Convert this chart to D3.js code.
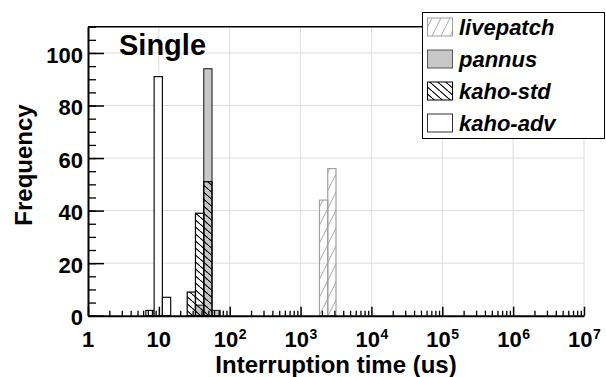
<!DOCTYPE html>
<html>
<head>
<meta charset="utf-8">
<script src="https://cdn.jsdelivr.net/npm/d3@7"></script>
<style>
  body { margin: 0; background: #fff; }
  svg { font-family: "Liberation Sans", Arial, sans-serif; font-weight: bold; }
</style>
</head>
<body>
<svg id="chart" width="606" height="377"></svg>
<script>
// histogram: 60 log bins between 1 and 1e7 us
const nBins = 60;
const decades = [1, 10, 100, 1000, 10000, 100000, 1000000, 10000000];
const yTicks = [0, 20, 40, 60, 80, 100];

const livepatchBins = [28, 29];
const livepatchCounts = [44, 56];
const pannusBins = [13, 14, 15];
const pannusCounts = [4, 94, 2];
const kahoStdBins = [12, 13, 14];
const kahoStdCounts = [9, 39, 51];
const kahoAdvBins = [7, 8, 9];
const kahoAdvCounts = [2, 91, 7];

const legendNames = ["livepatch", "pannus", "kaho-std", "kaho-adv"];

const svg = d3.select("#chart");
const pLeft = 88, pRight = 584, pTop = 26.7, pBottom = 315.7;

const x = d3.scaleLog().domain([1, 1e7]).range([pLeft, pRight]);
const y = d3.scaleLinear().domain([0, 110]).range([pBottom, pTop]);
const edge = i => Math.pow(10, i * 7 / nBins);

// patterns
const defs = svg.append("defs");
defs.append("pattern")
    .attr("id", "hatchLive")
    .attr("patternUnits", "userSpaceOnUse")
    .attr("width", 9).attr("height", 18)
    .append("path")
    .attr("d", "M0,18 L9,0 M-9,18 L0,0 M9,18 L18,0")
    .attr("stroke", "#a8a8a8").attr("stroke-width", 1);
defs.append("pattern")
    .attr("id", "hatchStd")
    .attr("patternUnits", "userSpaceOnUse")
    .attr("width", 8).attr("height", 7)
    .append("path")
    .attr("d", "M0,0 L8,7 M-8,0 L0,7 M8,0 L16,7")
    .attr("stroke", "#000").attr("stroke-width", 1.1);

// grid
svg.append("g").selectAll("line")
    .data(decades.slice(1))
    .enter().append("line")
    .attr("x1", d => x(d)).attr("x2", d => x(d))
    .attr("y1", pTop).attr("y2", pBottom)
    .attr("stroke", "#dedede").attr("stroke-width", 1);
svg.append("g").selectAll("line")
    .data(yTicks.slice(1))
    .enter().append("line")
    .attr("x1", pLeft).attr("x2", pRight)
    .attr("y1", d => y(d)).attr("y2", d => y(d))
    .attr("stroke", "#dedede").attr("stroke-width", 1);

function drawHist(bins, counts, fill, stroke) {
  svg.append("g").selectAll("rect")
      .data(bins.map((b, i) => ({b: b, c: counts[i]})))
      .enter().append("rect")
      .attr("x", d => x(edge(d.b)))
      .attr("width", d => x(edge(d.b + 1)) - x(edge(d.b)))
      .attr("y", d => y(d.c))
      .attr("height", d => y(0) - y(d.c))
      .attr("fill", fill)
      .attr("stroke", stroke)
      .attr("stroke-width", 1.2);
}

drawHist(livepatchBins, livepatchCounts, "url(#hatchLive)", "#a0a0a0");
drawHist(pannusBins, pannusCounts, "#c8c8c8", "#333");
drawHist(kahoStdBins, kahoStdCounts, "url(#hatchStd)", "#000");
drawHist(kahoAdvBins, kahoAdvCounts, "#fff", "#111");

// x axis
const minor = [];
decades.slice(0, -1).forEach(d => { for (let k = 2; k < 10; k++) minor.push(d * k); });
svg.append("g")
    .attr("transform", `translate(0,${pBottom})`)
    .call(d3.axisBottom(x).tickValues(minor).tickSizeInner(-5).tickSizeOuter(0).tickFormat(""))
    .call(g => g.select(".domain").remove())
    .call(g => g.selectAll("line").attr("stroke-width", 1.3));

const xAxis = svg.append("g")
    .attr("transform", `translate(0,${pBottom})`)
    .call(d3.axisBottom(x).tickValues(decades).tickSizeInner(-9).tickSizeOuter(0).tickFormat(""));
xAxis.select(".domain").attr("stroke-width", 2);
xAxis.selectAll("line").attr("stroke-width", 1.5);
xAxis.selectAll(".tick text").remove();

// x tick labels: 1, 10, then 10^n with a separate superscript
const xLab = svg.append("g").attr("font-size", 22).attr("fill", "#000");
decades.forEach((d, i) => {
  if (i < 2) {
    xLab.append("text")
        .attr("x", x(d)).attr("y", 346.5)
        .attr("text-anchor", "middle")
        .text(String(d));
  } else {
    xLab.append("text")
        .attr("x", x(d) + 8.5).attr("y", 346.5)
        .attr("text-anchor", "end")
        .text("10");
    xLab.append("text")
        .attr("x", x(d) + 9).attr("y", 339)
        .attr("font-size", 14)
        .text(String(i));
  }
});

// y axis
svg.append("g")
    .attr("transform", `translate(${pLeft},0)`)
    .call(d3.axisLeft(y).tickValues(d3.range(0, 111, 5)).tickSizeInner(-8).tickSizeOuter(0).tickFormat(""))
    .call(g => g.select(".domain").remove())
    .call(g => g.selectAll("line").attr("stroke-width", 1.3));
const yAxis = svg.append("g")
    .attr("transform", `translate(${pLeft},0)`)
    .call(d3.axisLeft(y).tickValues(yTicks).tickSizeInner(-16).tickSizeOuter(0).tickPadding(5));
yAxis.select(".domain").attr("stroke-width", 2);
yAxis.selectAll("line").attr("stroke-width", 1.5);
yAxis.selectAll(".tick text")
    .attr("font-size", 22)
    .attr("font-family", "Liberation Sans, Arial, sans-serif")
    .attr("font-weight", "bold")
    .attr("dy", "0.42em")
    .attr("fill", "#000");

// top frame line
svg.append("line")
    .attr("x1", pLeft).attr("x2", pRight)
    .attr("y1", pTop).attr("y2", pTop)
    .attr("stroke", "#000").attr("stroke-width", 1.5);

// titles
svg.append("text")
    .attr("x", 119).attr("y", 55)
    .attr("font-size", 29)
    .text("Single");
svg.append("text")
    .attr("transform", `translate(32,165) rotate(-90)`)
    .attr("text-anchor", "middle")
    .attr("font-size", 24)
    .text("Frequency");
svg.append("text")
    .attr("x", (pLeft + pRight) / 2).attr("y", 372.5)
    .attr("text-anchor", "middle")
    .attr("font-size", 24)
    .text("Interruption time (us)");

// legend
const leg = svg.append("g");
leg.append("rect")
    .attr("x", 422.5).attr("y", 12.5)
    .attr("width", 182).attr("height", 126)
    .attr("fill", "#fff").attr("stroke", "#000").attr("stroke-width", 1);
const swFill = ["url(#hatchLive)", "#c8c8c8", "url(#hatchStd)", "#fff"];
const swStroke = ["#a0a0a0", "#555", "#000", "#333"];
legendNames.forEach((name, i) => {
  const cy = 27 + i * 32;
  leg.append("rect")
      .attr("x", 427.5).attr("y", cy - 9)
      .attr("width", 25).attr("height", 18)
      .attr("fill", swFill[i]).attr("stroke", swStroke[i]).attr("stroke-width", 1);
  leg.append("text")
      .attr("x", 459).attr("y", cy + 8)
      .attr("font-size", 22)
      .attr("font-style", "italic")
      .text(name);
});
</script>
</body>
</html>
